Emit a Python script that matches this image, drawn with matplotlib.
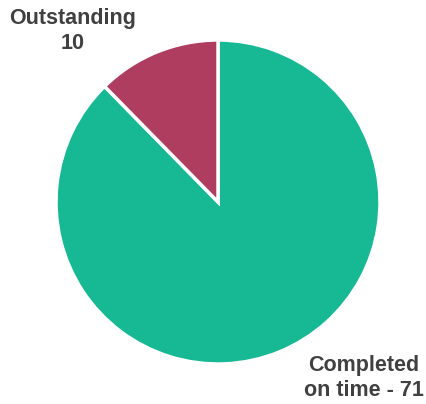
import matplotlib
matplotlib.use("Agg")
import matplotlib.pyplot as plt

# Datos del grafico
categories = ["Completed on time", "Outstanding"]
values = [71, 10]
colors = ["#16B994", "#AF3D5F"]

W, H = 426, 404
fig = plt.figure(figsize=(W / 100, H / 100), dpi=100)

# Ejes cuadrados para el pastel (centro ~ (218, 202), radio ~162 px)
ax = fig.add_axes([56 / W, 40 / H, 324 / W, 324 / H])
ax.pie(values, colors=colors, startangle=90, counterclock=False,
       radius=1, wedgeprops=dict(edgecolor="white", linewidth=2.5))
ax.set_xlim(-1, 1)
ax.set_ylim(-1, 1)
ax.set_aspect("equal")
ax.axis("off")

# Etiquetas
label_style = dict(fontsize=15.5, fontweight="bold", color="#404040",
                   family=["Liberation Sans", "DejaVu Sans"],
                   ha="center", va="center", linespacing=1.2)
fig.text(73 / W, 1 - 31 / H, f"Outstanding\n{values[1]}", **label_style)
fig.text(364 / W, 1 - 378 / H, f"Completed\non time - {values[0]}", **label_style)

fig.savefig("out.png", dpi=100)
